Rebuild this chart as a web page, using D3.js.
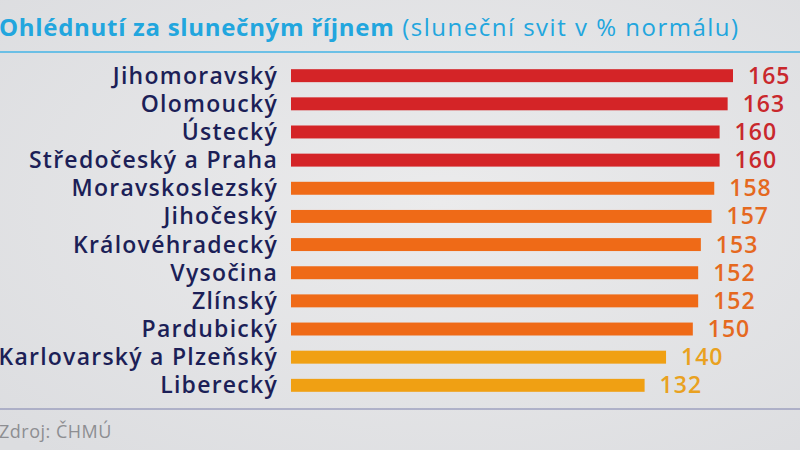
<!DOCTYPE html>
<html lang="cs">
<head>
<meta charset="UTF-8">
<title>Ohlédnutí za slunečným říjnem</title>
<script src="https://d3js.org/d3.v7.min.js"></script>
<style>
    body { margin: 0; background: #e2e3e5; }
    svg { display: block; font-family: "Open Sans", sans-serif; }
    .region { font-size: 23px; font-weight: 600; fill: #1c1f57; letter-spacing: 1.25px; }
    .value { font-size: 23px; font-weight: 600; letter-spacing: 1px; }
    .source { font-size: 18px; fill: #8d8e92; letter-spacing: 0.5px; }
</style>
</head>
<body>
<div id="chart"></div>
<script>
    // regions and sunshine in % of normal (October)
    const regions = ["Jihomoravský", "Olomoucký", "Ústecký", "Středočeský a Praha",
        "Moravskoslezský", "Jihočeský", "Královéhradecký", "Vysočina", "Zlínský",
        "Pardubický", "Karlovarský a Plzeňský", "Liberecký"];
    const sunshine = [165, 163, 160, 160, 158, 157, 153, 152, 152, 150, 140, 132];

    const width = 800, height = 450;

    const svg = d3.select("#chart").append("svg")
        .attr("width", width)
        .attr("height", height);

    // background
    const defs = svg.append("defs");
    const grad = defs.append("radialGradient").attr("id", "bg")
        .attr("cx", "55%").attr("cy", "45%").attr("r", "75%");
    grad.append("stop").attr("offset", "0%").attr("stop-color", "#ebebec");
    grad.append("stop").attr("offset", "100%").attr("stop-color", "#dcdde0");
    svg.append("rect").attr("width", width).attr("height", height).attr("fill", "url(#bg)");

    // title
    const title = svg.append("text")
        .attr("x", -1)
        .attr("y", 36)
        .style("font-size", "24px")
        .style("fill", "#22a6de");
    title.append("tspan")
        .style("font-weight", 700)
        .style("letter-spacing", "0.7px")
        .text("Ohlédnutí za slunečným říjnem");
    title.append("tspan")
        .style("font-weight", 500)
        .style("letter-spacing", "1.5px")
        .text(" (sluneční svit v % normálu)");

    svg.append("line")
        .attr("x1", 0).attr("x2", width)
        .attr("y1", 52).attr("y2", 52)
        .attr("stroke", "#45b4e6").attr("stroke-width", 1.5);

    // scales
    const x = d3.scaleLinear()
        .domain([0, d3.max(sunshine)])
        .range([291, 733]);

    const y = d3.scaleBand()
        .domain(regions)
        .range([54, 407])
        .padding(0.54);

    const barColor = d3.scaleThreshold()
        .domain([150, 160])
        .range(["#f0a013", "#ef6a17", "#d42427"]);
    const textColor = d3.scaleThreshold()
        .domain([150, 160])
        .range(["#e9a120", "#e5691f", "#c9282c"]);

    const rows = regions.map((r, i) => ({ region: r, value: sunshine[i] }));

    // bars
    svg.selectAll(".bar")
        .data(rows)
        .join("rect")
        .attr("class", "bar")
        .attr("x", x(0))
        .attr("y", d => y(d.region))
        .attr("width", d => x(d.value) - x(0))
        .attr("height", y.bandwidth())
        .attr("fill", d => barColor(d.value));

    // region names
    svg.selectAll(".region")
        .data(rows)
        .join("text")
        .attr("class", "region")
        .attr("x", 278)
        .attr("y", d => y(d.region) + y.bandwidth() / 2)
        .attr("dy", "0.35em")
        .attr("text-anchor", "end")
        .text(d => d.region);

    // values
    svg.selectAll(".value")
        .data(rows)
        .join("text")
        .attr("class", "value")
        .attr("x", d => x(d.value) + 15)
        .attr("y", d => y(d.region) + y.bandwidth() / 2)
        .attr("dy", "0.35em")
        .attr("fill", d => textColor(d.value))
        .text(d => d.value);

    // bottom rule and source
    svg.append("line")
        .attr("x1", 0).attr("x2", width)
        .attr("y1", 409).attr("y2", 409)
        .attr("stroke", "#7d80ad").attr("stroke-width", 1);

    svg.append("text")
        .attr("class", "source")
        .attr("x", -1)
        .attr("y", 438)
        .text("Zdroj: ČHMÚ");
</script>
</body>
</html>
